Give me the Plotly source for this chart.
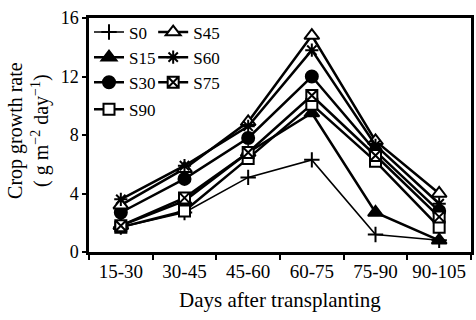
import plotly.graph_objects as go

# Sampling intervals (days after transplanting)
periods = ["15-30", "30-45", "45-60", "60-75", "75-90", "90-105"]

# Crop growth rate (g m-2 day-1) per treatment
s0 = [1.7, 2.7, 5.1, 6.3, 1.2, 0.8]
s15 = [1.8, 3.5, 6.8, 9.5, 2.7, 0.8]
s30 = [2.7, 5.0, 7.8, 12.0, 6.9, 2.8]
s45 = [3.2, 5.7, 8.9, 14.8, 7.6, 4.0]
s60 = [3.6, 5.9, 8.6, 13.8, 7.3, 3.3]
s75 = [1.8, 3.7, 6.8, 10.7, 6.6, 2.4]
s90 = [1.7, 2.8, 6.4, 10.1, 6.2, 1.7]

FONT = "Liberation Serif"
BLACK = "#000000"


def serif(size):
    return dict(family=FONT, size=size, color=BLACK)


# name, values, symbol, fill, marker size, line width, legend, group
series = [
    ("S0", s0, "cross-thin", BLACK, 11, 1.6, "legend", "a"),
    ("S15", s15, "triangle-up", BLACK, 13, 2.5, "legend", "a"),
    ("S30", s30, "circle", BLACK, 12, 2.5, "legend", "a"),
    ("S90", s90, "square", "white", 11, 2.5, "legend", "b"),
    ("S45", s45, "triangle-up", "white", 13, 2.5, "legend2", "c"),
    ("S60", s60, "asterisk-open", BLACK, 11, 2.5, "legend2", "c"),
    ("S75", s75, "square-x", "white", 11, 2.5, "legend2", "c"),
]

fig = go.Figure()
for name, vals, sym, fill, size, lw, leg, grp in series:
    fig.add_trace(go.Scatter(
        x=periods, y=vals, name=name, mode="lines+markers",
        line=dict(color=BLACK, width=lw),
        marker=dict(symbol=sym, size=size, color=fill,
                    line=dict(color=BLACK, width=2)),
        legend=leg, legendgroup=grp,
    ))

fig.update_layout(
    width=476, height=320,
    margin=dict(l=89, r=2, t=18, b=68),
    paper_bgcolor="white", plot_bgcolor="white",
    font=serif(18),
    showlegend=True,
    legend=dict(
        x=0.0, y=1.015, xanchor="left", yanchor="top",
        bgcolor="rgba(0,0,0,0)", font=serif(17),
        traceorder="grouped", tracegroupgap=2, itemwidth=30,
    ),
    legend2=dict(
        x=0.168, y=1.015, xanchor="left", yanchor="top",
        bgcolor="rgba(0,0,0,0)", font=serif(17),
        itemwidth=30,
    ),
    xaxis=dict(
        type="category", range=[-0.5, 5.5], tickson="boundaries",
        showgrid=False, zeroline=False,
        showline=True, linecolor=BLACK, linewidth=2.5, mirror=True,
        ticks="outside", ticklen=5, tickwidth=2, tickcolor=BLACK,
        tickfont=serif(19), tickangle=0,
    ),
    yaxis=dict(
        range=[0, 16], dtick=4, tick0=0,
        showgrid=False, zeroline=False,
        showline=True, linecolor=BLACK, linewidth=2.5, mirror=True,
        ticks="outside", ticklen=4, tickwidth=2, tickcolor=BLACK,
        tickfont=serif(18),
    ),
    annotations=[
        dict(text="Days after transplanting", xref="paper", yref="paper",
             x=0.5, y=-0.205, xanchor="center", yanchor="middle",
             showarrow=False, font=serif(21)),
        dict(text="Crop growth rate<br>( g m<sup>−2</sup> day<sup>−1</sup>)",
             xref="paper", yref="paper", x=-0.158, y=0.52,
             xanchor="center", yanchor="middle", textangle=-90,
             showarrow=False, font=serif(20)),
    ],
)

fig.write_html("out.html")
